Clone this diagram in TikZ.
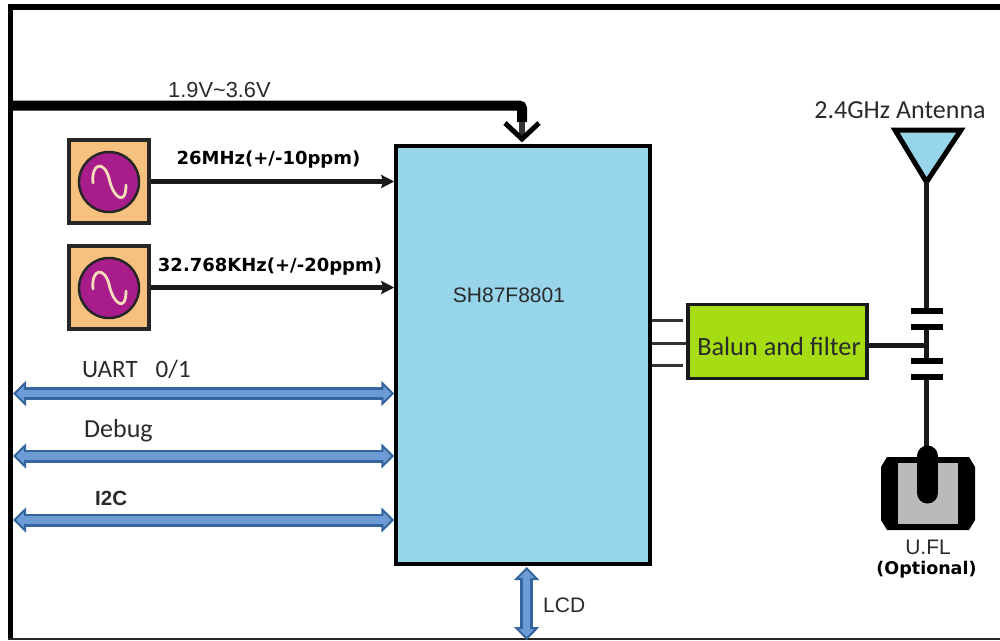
\documentclass[tikz,border=0pt]{standalone}
\usepackage{fontspec}
\setmainfont{Carlito}
\newfontfamily\arialf{Liberation Sans}
\newfontfamily\dejaf{DejaVu Sans}
\usetikzlibrary{arrows.meta}
\definecolor{chipblue}{HTML}{97D5EA}
\definecolor{busblue}{HTML}{6C9BD5}
\definecolor{busedge}{HTML}{35659C}
\definecolor{oscbg}{HTML}{F6C17F}
\definecolor{oscdisc}{HTML}{A81C8C}
\definecolor{waveC}{HTML}{F8DDB8}
\definecolor{limeC}{HTML}{A5DC12}
\definecolor{txt}{HTML}{2A2A2A}
\tikzset{
  x=1pt,y=-1pt,
  lbl/.style={inner sep=0pt,text=txt,font=\fontsize{21}{23}\selectfont\arialf},
  clbl/.style={inner sep=0pt,text=txt,font=\fontsize{26}{28}\selectfont},
  blbl/.style={inner sep=0pt,text=black,font=\fontsize{18}{20}\selectfont\dejaf\bfseries},
  osc/.style={draw=black!85,line width=4pt,fill=oscbg,minimum width=80pt,minimum height=83pt,inner sep=0pt},
  disc/.style={circle,draw=black!85,line width=2.5pt,fill=oscdisc,minimum size=60pt,inner sep=0pt},
  wave/.style={draw=waveC,line width=2.8pt,line cap=round},
  wire/.style={draw=black!90,line width=5pt},
  sig/.style={draw=black!90,line width=4.5pt,-{Stealth[length=13pt,width=13pt,inset=2pt]}},
  thinwire/.style={draw=black!80,line width=3pt},
  plate/.style={draw=black,line width=5.5pt},
  bus/.style={draw=busedge,line width=13pt,{Triangle[length=13pt,width=25pt,line width=2pt,fill=busblue]}-{Triangle[length=13pt,width=25pt,line width=2pt,fill=busblue]}},
  businner/.style={draw=busblue,line width=7.5pt,shorten <=9pt,shorten >=9pt},
}
\begin{document}
\begin{tikzpicture}
\useasboundingbox (0,0) rectangle (1000,640);
% frame
\fill[black] (8,4) rectangle (1000,9.5);
\fill[black] (8,4) rectangle (12.5,640);
\fill[black!85] (8,638) rectangle (1000,640);
% chip
\node[draw=black,line width=3.5pt,fill=chipblue,minimum width=254pt,minimum height=418pt,inner sep=0pt] (chip) at (523,355) {};
\node[lbl] (chiplbl) at (509,295) {SH87F8801};
% supply
\coordinate (vstart) at (12,105.5);
\coordinate (vcorner) at (522,105.5);
\coordinate (vdrop) at (522,122);
\coordinate (tipa) at (505,123);
\coordinate (tipb) at (539,123);
\coordinate (tipc) at (522,139);
\draw[black,line width=10pt,rounded corners=3pt] (vstart) -- (vcorner) -- (vdrop);
\draw[black!80,line width=6pt] (vdrop) -- (tipc);
\draw[black,line width=5pt] (tipa) -- (tipc) -- (tipb);
\node[lbl,anchor=west,font=\fontsize{21.8}{23}\selectfont\arialf] (vlbl) at (168,90) {1.9V\textasciitilde 3.6V};
% oscillators
\node[osc] (osc1) at (108.5,181.5) {};
\node[disc] (d1) at (109,182) {};
\draw[wave] (93,183) .. controls (91,163) and (104,160) .. (109,178) .. controls (113,198) and (126,207) .. (126,185);
\node[osc] (osc2) at (108.5,287.5) {};
\node[disc] (d2) at (109,288) {};
\draw[wave] (93,289) .. controls (91,269) and (104,266) .. (109,284) .. controls (113,304) and (126,313) .. (126,291);
\draw[sig] (osc1.east) -- (osc1.east -| chip.west);
\draw[sig] (osc2.east) -- (osc2.east -| chip.west);
\node[blbl] (f1) at (268.5,160) {26MHz(+/-10ppm)};
\node[blbl] (f2) at (270,267) {32.768KHz(+/-20ppm)};
% buses
\coordinate (u0) at (13,393.5); \coordinate (d0) at (13,456); \coordinate (i0) at (13,520);
\foreach \c in {u0,d0,i0}{
  \draw[bus] (\c) -- (\c -| chip.west);
  \draw[businner] (\c) -- (\c -| chip.west);
}
\node[clbl,anchor=west,font=\fontsize{25}{27}\selectfont] (ulbl) at (82,369) {UART\hspace{18pt}0/1};
\node[clbl,anchor=west] (dlbl) at (84,431) {Debug};
\node[lbl,anchor=west,font=\fontsize{20.5}{23}\selectfont\arialf\bfseries] (ilbl) at (95,498.5) {I2C};
% LCD
\coordinate (lcdtop) at (526.7,567);
\coordinate (lcdbot) at (526.7,640);
\draw[bus] (lcdtop) -- (lcdbot);
\draw[businner] (lcdtop) -- (lcdbot);
\node[lbl,anchor=west] (lcdl) at (543,605) {LCD};
% balun
\node[draw=black!90,line width=3.5pt,fill=limeC,minimum width=179pt,minimum height=74pt,inner sep=0pt] (bal) at (777.5,341.5) {};
\node[clbl,font=\fontsize{26.3}{28}\selectfont] (ballbl) at (779,346) {Balun and filter};
\coordinate (w1) at (683,320.7);
\coordinate (w3) at (683,365);
\draw[thinwire] (w1 -| chip.east) -- (w1);
\draw[thinwire] (chip.east |- 0,343) -- (bal.west |- 0,343);
\draw[thinwire] (w3 -| chip.east) -- (w3);
% antenna
\node[clbl] (anl) at (900,110) {2.4GHz Antenna};
\coordinate (apex) at (926.5,182);
\draw[black,line width=5pt,fill=chipblue,line join=miter] (895,130) -- (961,130) -- (apex) -- cycle;
\coordinate (p1) at (926.5,311);
\coordinate (p2) at (926.5,327);
\coordinate (p3) at (926.5,361);
\coordinate (p4) at (926.5,377);
\coordinate (bj) at (926.5,345);
\coordinate (ujack) at (926.5,452);
\draw[wire] (apex) -- (p1);
\draw[wire] (p2) -- (p3);
\draw[wire] (p4) -- (ujack);
\draw[wire] (bal.east |- bj) -- (bj);
\foreach \p in {p1,p2,p3,p4}{
  \draw[plate] ([xshift=-16pt]\p) -- ([xshift=16pt]\p);
}
% U.FL
\fill[black] (887,457) -- (969,457) -- (975,467) -- (975,520) -- (969,530) -- (887,530) -- (881,520) -- (881,467) -- cycle;
\fill[black!27] (898,463) rectangle (958,524);
\draw[black,line width=21pt,line cap=round] (927.5,456) -- (927.5,493);
\node[lbl] (ul) at (928,547) {U.FL};
\node[blbl,font=\fontsize{17.5}{19}\selectfont\dejaf\bfseries] (ul2) at (926.5,570) {(Optional)};
\end{tikzpicture}
\end{document}
